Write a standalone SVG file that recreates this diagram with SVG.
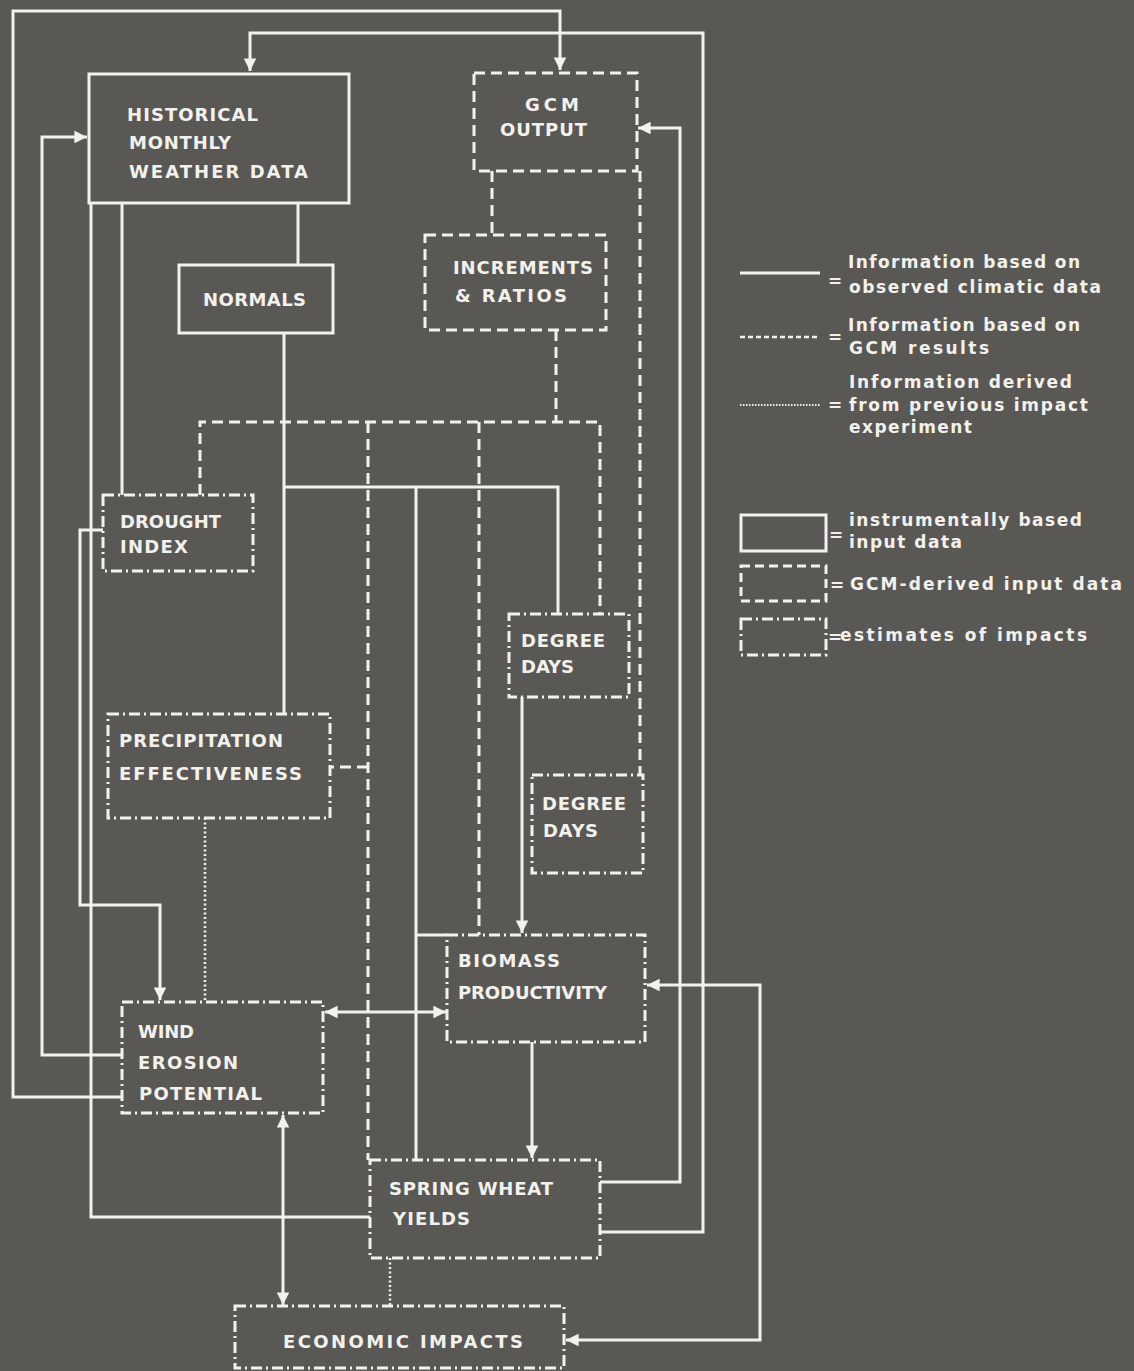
<svg xmlns="http://www.w3.org/2000/svg" width="1134" height="1371" viewBox="0 0 1134 1371">
<style>
.bg{fill:#5a5855}
.box{fill:none;stroke:#f2f1ee;stroke-width:3}
.dash{stroke-dasharray:11 6}
.dd{stroke-dasharray:11 4 2 4}
.ln{fill:none;stroke:#f2f1ee;stroke-width:3;stroke-linejoin:miter}
.lnd{stroke-dasharray:11 6}
.lnt{stroke-width:2.5;stroke-dasharray:2 2.5}
.lbl{font-family:"DejaVu Sans","Liberation Sans",sans-serif;font-weight:bold;font-size:18px;fill:#f2f1ee}
.leg{font-family:"DejaVu Sans","Liberation Sans",sans-serif;font-weight:bold;font-size:17px;fill:#f2f1ee}
</style>
<defs>
<marker id="ah" viewBox="0 0 10 10" refX="10" refY="5" markerWidth="4.8" markerHeight="4.2" markerUnits="strokeWidth" orient="auto-start-reverse">
<path d="M0,0 L10,5 L0,10 Z" fill="#f2f1ee"/>
</marker>
</defs>
<rect class="bg" x="0" y="0" width="1134" height="1371"/>

<g id="connectors">
<!-- solid -->
<path class="ln" d="M122,1097 H13 V11 H560 V70" marker-end="url(#ah)"/>
<path class="ln" d="M122,1055 H42 V137 H87" marker-end="url(#ah)"/>
<path class="ln" d="M103,530 H80 V905 H160 V1000" marker-end="url(#ah)"/>
<path class="ln" d="M91,203 V1217 H370"/>
<path class="ln" d="M122,203 V495"/>
<path class="ln" d="M298,203 V265"/>
<path class="ln" d="M284,333 V714"/>
<path class="ln" d="M284,487 H558 V614"/>
<path class="ln" d="M416,487 V1160"/>
<path class="ln" d="M416,935 H447"/>
<path class="ln" d="M600,1232 H703 V33 H250 V71" marker-end="url(#ah)"/>
<path class="ln" d="M600,1182 H680 V128 H638" marker-end="url(#ah)"/>
<path class="ln" d="M647,985 H760 V1340 H566" marker-start="url(#ah)" marker-end="url(#ah)"/>
<path class="ln" d="M325,1012 H446" marker-start="url(#ah)" marker-end="url(#ah)"/>
<path class="ln" d="M522,697 V933" marker-end="url(#ah)"/>
<path class="ln" d="M532,1042 V1158" marker-end="url(#ah)"/>
<path class="ln" d="M283,1115 V1305" marker-start="url(#ah)" marker-end="url(#ah)"/>
<!-- dashed -->
<path class="ln lnd" d="M492,171 V235"/>
<path class="ln lnd" d="M556,330 V422"/>
<path class="ln lnd" d="M200,495 V422 H600 V614"/>
<path class="ln lnd" d="M368,422 V1160"/>
<path class="ln lnd" d="M479,422 V935"/>
<path class="ln lnd" d="M368,767 H330"/>
<path class="ln lnd" d="M640,171 V775"/>
<!-- dotted -->
<path class="ln lnt" d="M205,818 V1002"/>
<path class="ln lnt" d="M390,1258 V1306"/>
</g>

<g id="historical">
<rect class="box" x="89" y="74" width="260" height="129"/>
<text class="lbl" x="127" y="121" textLength="131" lengthAdjust="spacing">HISTORICAL</text>
<text class="lbl" x="129" y="149" textLength="102" lengthAdjust="spacing">MONTHLY</text>
<text class="lbl" x="129" y="178" textLength="179" lengthAdjust="spacing">WEATHER DATA</text>
</g>
<g id="normals">
<rect class="box" x="179" y="265" width="154" height="68"/>
<text class="lbl" x="203" y="306" textLength="103" lengthAdjust="spacing">NORMALS</text>
</g>
<g id="gcm">
<rect class="box dash" x="474" y="73" width="163" height="98"/>
<text class="lbl" x="525" y="111" textLength="54" lengthAdjust="spacing">GCM</text>
<text class="lbl" x="500" y="136" textLength="87" lengthAdjust="spacing">OUTPUT</text>
</g>
<g id="increments">
<rect class="box dash" x="425" y="235" width="181" height="95"/>
<text class="lbl" x="453" y="274" textLength="140" lengthAdjust="spacing">INCREMENTS</text>
<text class="lbl" x="455" y="302" textLength="112" lengthAdjust="spacing">&amp; RATIOS</text>
</g>
<g id="drought">
<rect class="box dd" x="103" y="495" width="150" height="76"/>
<text class="lbl" x="120" y="528" textLength="101" lengthAdjust="spacing">DROUGHT</text>
<text class="lbl" x="120" y="553" textLength="68" lengthAdjust="spacing">INDEX</text>
</g>
<g id="degreedays1">
<rect class="box dd" x="509" y="614" width="120" height="83"/>
<text class="lbl" x="521" y="647" textLength="84" lengthAdjust="spacing">DEGREE</text>
<text class="lbl" x="521" y="673" textLength="53" lengthAdjust="spacing">DAYS</text>
</g>
<g id="precipitation">
<rect class="box dd" x="108" y="714" width="222" height="104"/>
<text class="lbl" x="119" y="747" textLength="164" lengthAdjust="spacing">PRECIPITATION</text>
<text class="lbl" x="119" y="780" textLength="183" lengthAdjust="spacing">EFFECTIVENESS</text>
</g>
<g id="degreedays2">
<rect class="box dd" x="532" y="775" width="111" height="98"/>
<text class="lbl" x="542" y="810" textLength="84" lengthAdjust="spacing">DEGREE</text>
<text class="lbl" x="543" y="837" textLength="55" lengthAdjust="spacing">DAYS</text>
</g>
<g id="biomass">
<rect class="box dd" x="447" y="935" width="198" height="107"/>
<text class="lbl" x="458" y="967" textLength="102" lengthAdjust="spacing">BIOMASS</text>
<text class="lbl" x="458" y="999" textLength="149" lengthAdjust="spacing">PRODUCTIVITY</text>
</g>
<g id="winderosion">
<rect class="box dd" x="122" y="1002" width="201" height="111"/>
<text class="lbl" x="138" y="1038" textLength="56" lengthAdjust="spacing">WIND</text>
<text class="lbl" x="138" y="1069" textLength="100" lengthAdjust="spacing">EROSION</text>
<text class="lbl" x="139" y="1100" textLength="123" lengthAdjust="spacing">POTENTIAL</text>
</g>
<g id="springwheat">
<rect class="box dd" x="370" y="1160" width="230" height="98"/>
<text class="lbl" x="389" y="1195" textLength="164" lengthAdjust="spacing">SPRING WHEAT</text>
<text class="lbl" x="393" y="1225" textLength="77" lengthAdjust="spacing">YIELDS</text>
</g>
<g id="economic">
<rect class="box dd" x="235" y="1306" width="329" height="62"/>
<text class="lbl" x="283" y="1348" textLength="240" lengthAdjust="spacing">ECONOMIC  IMPACTS</text>
</g>

<g id="legend">
<line class="ln" x1="740" y1="273" x2="820" y2="273"/>
<text class="leg" x="828" y="287">=</text>
<text class="leg" x="848" y="268" textLength="232" lengthAdjust="spacing">Information based on</text>
<text class="leg" x="849" y="293" textLength="252" lengthAdjust="spacing">observed climatic data</text>
<line class="ln lnd" x1="740" y1="337" x2="820" y2="337" style="stroke-dasharray:5 3;stroke-width:2.5"/>
<text class="leg" x="828" y="343">=</text>
<text class="leg" x="848" y="331" textLength="232" lengthAdjust="spacing">Information based on</text>
<text class="leg" x="849" y="354" textLength="140" lengthAdjust="spacing">GCM results</text>
<line class="ln lnt" x1="740" y1="405" x2="820" y2="405" style="stroke-width:1.8;stroke-dasharray:1.5 1.5"/>
<text class="leg" x="828" y="411">=</text>
<text class="leg" x="849" y="388" textLength="223" lengthAdjust="spacing">Information derived</text>
<text class="leg" x="849" y="411" textLength="239" lengthAdjust="spacing">from previous impact</text>
<text class="leg" x="849" y="433" textLength="123" lengthAdjust="spacing">experiment</text>
<rect class="box" x="741" y="515" width="85" height="36"/>
<text class="leg" x="829" y="541">=</text>
<text class="leg" x="849" y="526" textLength="233" lengthAdjust="spacing">instrumentally based</text>
<text class="leg" x="849" y="548" textLength="113" lengthAdjust="spacing">input data</text>
<rect class="box dash" x="741" y="566" width="85" height="35" style="stroke-dasharray:9 5"/>
<text class="leg" x="830" y="591">=</text>
<text class="leg" x="850" y="590" textLength="272" lengthAdjust="spacing">GCM-derived input data</text>
<rect class="box dd" x="741" y="619" width="85" height="36"/>
<text class="leg" x="828" y="643">=</text>
<text class="leg" x="840" y="641" textLength="247" lengthAdjust="spacing">estimates of impacts</text>
</g>
</svg>
